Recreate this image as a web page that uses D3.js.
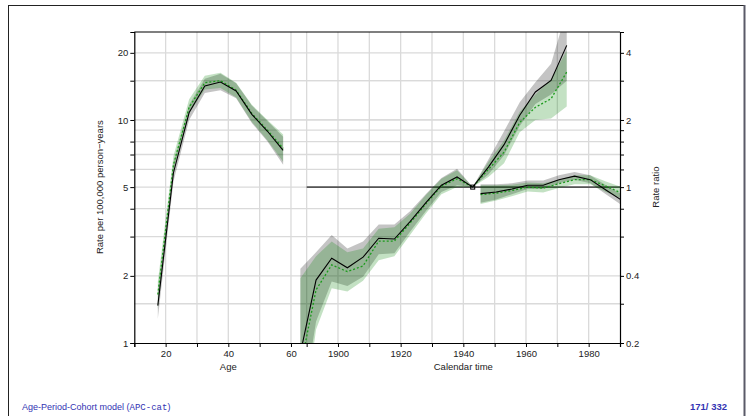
<!DOCTYPE html>
<html><head><meta charset="utf-8">
<script src="https://cdn.jsdelivr.net/npm/d3@7"></script>
<style>body{margin:0;background:#fff} svg{display:block}</style>
</head><body>
<svg id="c" width="751" height="416"></svg>
<script>
// ---- Age effect (rate per 100,000 person-years) ----
const ages    = [17.5, 22.5, 27.5, 32.5, 37.5, 42.5, 47.5, 52.5, 57.5];
const ageSolid= [1.47, 5.8, 10.8, 14.2, 14.8, 13.5, 10.6, 8.9, 7.3];
const ageLoS  = [1.28, 5.3, 10.0, 13.2, 13.6, 12.5, 9.7, 8.0, 6.3];
const ageHiS  = [1.70, 6.4, 11.7, 15.3, 16.1, 14.6, 11.6, 9.9, 8.4];
const ageDot  = [1.65, 6.3, 11.4, 14.7, 15.0, 13.6, 10.7, 9.0, 7.45];
const ageLoD  = [1.42, 5.9, 10.7, 13.7, 13.9, 12.6, 9.8, 8.1, 6.5];
const ageHiD  = [1.88, 6.9, 12.4, 15.8, 16.3, 14.7, 11.7, 10.0, 8.6];

// ---- Period effect (rate ratio) ----
const periods = [1945.5, 1950.5, 1955.5, 1960.5, 1965.5, 1970.5, 1975.5, 1980.5, 1985.5, 1990.5];
const perSolid= [0.935, 0.95, 0.98, 1.02, 1.02, 1.08, 1.12, 1.08, 0.97, 0.875];
const perLoS  = [0.85, 0.88, 0.93, 0.98, 0.98, 1.04, 1.08, 1.04, 0.93, 0.83];
const perHiS  = [1.03, 1.03, 1.04, 1.07, 1.07, 1.13, 1.17, 1.13, 1.02, 0.93];
const perDot  = [0.925, 0.94, 0.965, 1.0, 0.99, 1.035, 1.08, 1.08, 1.01, 0.94];
const perLoD  = [0.84, 0.87, 0.91, 0.955, 0.945, 0.99, 1.03, 1.03, 0.95, 0.89];
const perHiD  = [1.02, 1.02, 1.025, 1.05, 1.04, 1.08, 1.13, 1.13, 1.06, 1.0];

// ---- Cohort effect (rate ratio, reference 1943) ----
const cohorts = [1888, 1893, 1898, 1903, 1908, 1913, 1918, 1923, 1928, 1933, 1938, 1943, 1948, 1953, 1958, 1963, 1968, 1973];
const cohSolid= [0.18, 0.383, 0.48, 0.435, 0.485, 0.59, 0.585, 0.70, 0.85, 1.02, 1.11, 1, 1.23, 1.55, 2.1, 2.67, 3.01, 4.32];
const cohLoS  = [0.09, 0.25, 0.377, 0.36, 0.396, 0.50, 0.505, 0.63, 0.78, 0.95, 1.02, 1, 1.14, 1.39, 1.88, 2.36, 2.60, 3.0];
const cohHiS  = [0.43, 0.51, 0.61, 0.53, 0.57, 0.68, 0.68, 0.78, 0.93, 1.10, 1.21, 1, 1.33, 1.78, 2.4, 2.95, 3.57, 6.2];
const cohDot  = [0.155, 0.346, 0.448, 0.418, 0.443, 0.573, 0.573, 0.69, 0.84, 1.01, 1.09, 1, 1.2, 1.435, 1.95, 2.28, 2.49, 3.28];
const cohLoD  = [0.07, 0.23, 0.352, 0.34, 0.38, 0.47, 0.49, 0.61, 0.76, 0.93, 1.0, 1, 1.11, 1.28, 1.76, 2.0, 2.03, 2.3];
const cohHiD  = [0.39, 0.49, 0.57, 0.51, 0.53, 0.65, 0.66, 0.76, 0.92, 1.09, 1.19, 1, 1.3, 1.62, 2.18, 2.6, 3.05, 4.1];
const refCohort = 1943;

// ---- Axis ticks ----
const ageTicks   = [10, 20, 30, 40, 50, 60];
const ageLabels  = [20, 40, 60];
const calTicks   = [1890, 1900, 1910, 1920, 1930, 1940, 1950, 1960, 1970, 1980, 1990];
const calLabels  = [1900, 1920, 1940, 1960, 1980];
const rateTicks  = [1, 2, 3, 4, 5, 6, 7, 8, 10, 15, 20];
const rateLabels = [1, 2, 5, 10, 20];
const ratioTicks = [0.2, 0.3, 0.4, 0.6, 0.8, 1, 1.2, 1.4, 1.6, 1.8, 2, 3, 4];
const ratioLabels= [0.2, 0.4, 1, 2, 4];

// ---- layout ----
const svg = d3.select("#c");
const L = 134.3, R = 620, T = 32, B = 343;
const OFF = 1825; // calendar year -> age-axis units
const x  = d3.scaleLinear().domain([10, 165]).range([L, R]);
const yL = d3.scaleLog().domain([1, 24.8]).range([B, T]);
const yR = d3.scaleLog().domain([0.2, 4.96]).range([B, T]);
const FONT = "'Liberation Sans', Arial, sans-serif";

// slide frame
svg.append("line").attr("x1",8).attr("x2",745).attr("y1",5.5).attr("y2",5.5).attr("stroke","#222").attr("stroke-width",1);
svg.append("line").attr("x1",8.5).attr("x2",8.5).attr("y1",5).attr("y2",416).attr("stroke","#222").attr("stroke-width",1);
svg.append("line").attr("x1",744.5).attr("x2",744.5).attr("y1",5).attr("y2",416).attr("stroke","#5a5a68").attr("stroke-width",2);

svg.append("defs").append("clipPath").attr("id","clip")
  .append("rect").attr("x",L).attr("y",T).attr("width",R-L).attr("height",B-T);

// grid
const grid = svg.append("g").attr("stroke","#dadada").attr("stroke-width",1.3);
const vgrid = ageTicks.filter(a=>a>10).concat(calTicks.filter(c=>c<1990).map(c=>c-OFF));
vgrid.forEach(u=>grid.append("line").attr("x1",x(u)).attr("x2",x(u)).attr("y1",T).attr("y2",B));
const hgridY = Array.from(new Set(rateTicks.map(v=>yL(v)).concat(ratioTicks.map(v=>yR(v)))));
hgridY.filter(y=>y<B-1).forEach(y=>grid.append("line").attr("x1",L).attr("x2",R).attr("y1",y).attr("y2",y));

// reference line at ratio 1
svg.append("line").attr("x1",x(1890-OFF)).attr("x2",R).attr("y1",yR(1)).attr("y2",yR(1))
  .attr("stroke","#555").attr("stroke-width",1.8);

const plot = svg.append("g").attr("clip-path","url(#clip)");
const GRAY = "rgba(0,0,0,0.23)", GREEN = "rgba(0,128,0,0.235)";

function rows(xs, off, c, lo, hi){ return xs.map((v,i)=>({u:v-off, c:c[i], lo:lo[i], hi:hi[i]})); }
const ageS = rows(ages,0,ageSolid,ageLoS,ageHiS), ageD = rows(ages,0,ageDot,ageLoD,ageHiD);
const perS = rows(periods,OFF,perSolid,perLoS,perHiS), perD = rows(periods,OFF,perDot,perLoD,perHiD);
const cohS = rows(cohorts,OFF,cohSolid,cohLoS,cohHiS), cohD = rows(cohorts,OFF,cohDot,cohLoD,cohHiD);

function band(data, y, fill){
  plot.append("path").datum(data).attr("fill",fill).attr("stroke","none")
    .attr("d", d3.area().x(d=>x(d.u)).y0(d=>y(d.lo)).y1(d=>y(d.hi)));
}
function line(data, y, color, dash, w){
  plot.append("path").datum(data).attr("fill","none").attr("stroke",color).attr("stroke-width",w)
    .attr("stroke-dasharray",dash).attr("d", d3.line().x(d=>x(d.u)).y(d=>y(d.c)));
}
band(ageS,yL,GRAY); band(ageD,yL,GREEN);
band(perS,yR,GRAY); band(perD,yR,GREEN);
band(cohS,yR,GRAY); band(cohD,yR,GREEN);
line(ageD,yL,"#1c9a1c","2,2",1.3); line(ageS,yL,"#000",null,1.1);
line(perD,yR,"#1c9a1c","2,2",1.3); line(perS,yR,"#000",null,1.1);
line(cohD,yR,"#1c9a1c","2,2",1.3); line(cohS,yR,"#000",null,1.1);
plot.append("rect").attr("x",x(refCohort-OFF)-2).attr("y",yR(1)-2).attr("width",4).attr("height",4)
  .attr("fill","none").attr("stroke","#000").attr("stroke-width",1);

// plot box top line
svg.append("line").attr("x1",L).attr("x2",R).attr("y1",T).attr("y2",T).attr("stroke","#000").attr("stroke-width",1.2);

// axes
function styleAxis(g){
  g.selectAll("path.domain").attr("stroke","#000").attr("stroke-width",1.2);
  g.selectAll(".tick line").attr("stroke","#000");
  g.selectAll("text").attr("font-family",FONT).attr("font-size","9.5px").attr("fill","#222");
}
const fmt = v => String(v);
svg.append("g").attr("transform",`translate(${L},0)`)
  .call(d3.axisLeft(yL).tickValues(rateTicks).tickSize(4).tickPadding(2).tickFormat(v=>rateLabels.includes(v)?fmt(v):""))
  .call(styleAxis);
svg.append("g").attr("transform",`translate(${R},0)`)
  .call(d3.axisRight(yR).tickValues(ratioTicks).tickSize(4).tickPadding(2).tickFormat(v=>ratioLabels.includes(v)?fmt(v):""))
  .call(styleAxis);
const bticks = ageTicks.concat(calTicks.map(c=>c-OFF));
svg.append("g").attr("transform",`translate(0,${B})`)
  .call(d3.axisBottom(x).tickValues(bticks).tickSize(4).tickPadding(3)
    .tickFormat(u=>{ if(u<=60) return ageLabels.includes(u)?fmt(u):""; const yr=u+OFF; return calLabels.includes(yr)?fmt(yr):""; }))
  .call(styleAxis);

// axis titles
const title = (t,xx,yy,rot)=>svg.append("text").attr("x",xx).attr("y",yy).attr("text-anchor","middle")
  .attr("font-family",FONT).attr("font-size","9.5px").attr("fill","#222")
  .attr("transform",rot?`rotate(-90,${xx},${yy})`:null).text(t);
title("Age", x(40), 370);
title("Calendar time", x(1940-OFF), 370);
title("Rate per 100,000 person\u2212years", 103, yL(5), true);
title("Rate ratio", 659, yR(1), true);

// footer
const foot = svg.append("text").attr("x",22).attr("y",410).attr("font-family",FONT).attr("font-size","9px").attr("fill","#3333b3");
foot.append("tspan").text("Age-Period-Cohort model (");
foot.append("tspan").attr("font-family","'Liberation Mono', monospace").text("APC-cat");
foot.append("tspan").text(")");
svg.append("text").attr("x",727).attr("y",410).attr("text-anchor","end").attr("font-family",FONT)
  .attr("font-size","9.5px").attr("font-weight","bold").attr("fill","#3333b3").text("171/ 332");
</script>
</body></html>
